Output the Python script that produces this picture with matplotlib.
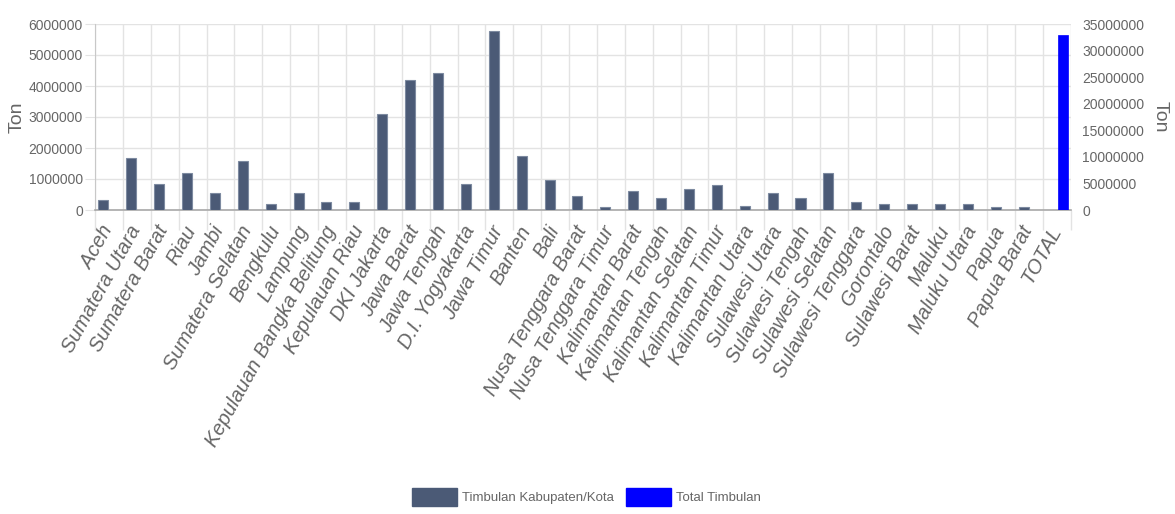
import numpy as np
import matplotlib
matplotlib.use("Agg")
import matplotlib.pyplot as plt
from matplotlib.patches import Patch
from matplotlib.ticker import FuncFormatter, MultipleLocator
import matplotlib.transforms as mtransforms

# data (ton)
provinces = ["Aceh", "Sumatera Utara", "Sumatera Barat", "Riau", "Jambi",
             "Sumatera Selatan", "Bengkulu", "Lampung",
             "Kepulauan Bangka Belitung", "Kepulauan Riau", "DKI Jakarta",
             "Jawa Barat", "Jawa Tengah", "D.I. Yogyakarta", "Jawa Timur",
             "Banten", "Bali", "Nusa Tenggara Barat", "Nusa Tenggara Timur",
             "Kalimantan Barat", "Kalimantan Tengah", "Kalimantan Selatan",
             "Kalimantan Timur", "Kalimantan Utara", "Sulawesi Utara",
             "Sulawesi Tengah", "Sulawesi Selatan", "Sulawesi Tenggara",
             "Gorontalo", "Sulawesi Barat", "Maluku", "Maluku Utara",
             "Papua", "Papua Barat"]
timbulan = [320000, 1690000, 830000, 1180000, 540000,
            1580000, 180000, 540000,
            260000, 250000, 3110000,
            4180000, 4410000, 830000, 5770000,
            1750000, 970000, 460000, 110000,
            610000, 380000, 680000,
            810000, 130000, 540000,
            380000, 1180000, 250000,
            180000, 180000, 180000, 180000,
            100000, 100000]
total_label = "TOTAL"
total_timbulan = 32900000

labels = provinces + [total_label]

plt.rcParams["font.family"] = ["Liberation Sans", "DejaVu Sans"]

grey_txt = "#666666"
grid_c = "#e3e3e3"
dark = "#4b5a76"
blue = "#0000ff"

fig = plt.figure(figsize=(11.75, 5.14), dpi=100)
ax = fig.add_axes([95 / 1175, 1 - 210 / 514, (1071 - 95) / 1175, (210 - 24) / 514])
ax2 = ax.twinx()

x = np.arange(len(provinces))
ax.bar(x - 0.2, timbulan, width=0.36, color=dark, edgecolor="#7d8aa0",
       linewidth=0.8, zorder=3)
ax2.bar([len(provinces) + 0.2], [total_timbulan], width=0.36, color=blue,
        edgecolor=blue, linewidth=0.5, zorder=3)

n = len(labels)
ax.set_xlim(-0.5, n - 0.5)
ax.set_ylim(0, 6000000)
ax2.set_ylim(0, 35000000)

ax.yaxis.set_major_locator(MultipleLocator(1000000))
ax2.yaxis.set_major_locator(MultipleLocator(5000000))
fmt = FuncFormatter(lambda v, p: "%d" % v)
ax.yaxis.set_major_formatter(fmt)
ax2.yaxis.set_major_formatter(fmt)

# grid lines at category boundaries
ax.set_xticks(np.arange(n))
ax.set_xticks(np.arange(n + 1) - 0.5, minor=True)
ax.set_xticklabels(labels, rotation=61, ha="right", rotation_mode="anchor",
                   style="italic", fontsize=14.5, color=grey_txt)
ax.tick_params(axis="x", which="major", length=0, pad=9)
ax.tick_params(axis="x", which="minor", length=14.4, color=grid_c, width=1)
ax.grid(True, which="minor", axis="x", color=grid_c, linewidth=1, zorder=0)
ax.grid(True, which="major", axis="y", color=grid_c, linewidth=1, zorder=0)

offset = mtransforms.ScaledTranslation(-9 / 100, 0, fig.dpi_scale_trans)
for lbl in ax.get_xticklabels():
    lbl.set_transform(lbl.get_transform() + offset)

ax.tick_params(axis="y", length=7.2, color=grid_c, pad=1.5, labelsize=10,
               labelcolor=grey_txt)
ax2.tick_params(axis="y", length=0, pad=8, labelsize=10, labelcolor=grey_txt)

for s in ["top", "right"]:
    ax.spines[s].set_visible(False)
    ax2.spines[s].set_visible(False)
ax2.spines["left"].set_visible(False)
ax2.spines["bottom"].set_visible(False)
ax.spines["left"].set_color("#c8c8c8")
ax.spines["bottom"].set_color("#a8a8a8")
ax.spines["bottom"].set_linewidth(1.2)

fig.text(17 / 1175, 1 - 117 / 514, "Ton", rotation=90, ha="center",
         va="center", fontsize=14, color=grey_txt)
fig.text(1160 / 1175, 1 - 117 / 514, "Ton", rotation=270, ha="center",
         va="center", fontsize=14, color=grey_txt)

handles = [Patch(facecolor=dark, edgecolor=dark, label="Timbulan Kabupaten/Kota"),
           Patch(facecolor=blue, edgecolor=blue, label="Total Timbulan")]
leg = fig.legend(handles=handles, loc="center", bbox_to_anchor=(0.499, 1 - 497 / 514),
                 ncol=2, frameon=False, handlelength=3.4,
                 handleheight=1.8, handletextpad=0.4, columnspacing=0.9,
                 prop={"size": 9.5})
for t in leg.get_texts():
    t.set_color(grey_txt)

fig.savefig("out.png", dpi=100)
